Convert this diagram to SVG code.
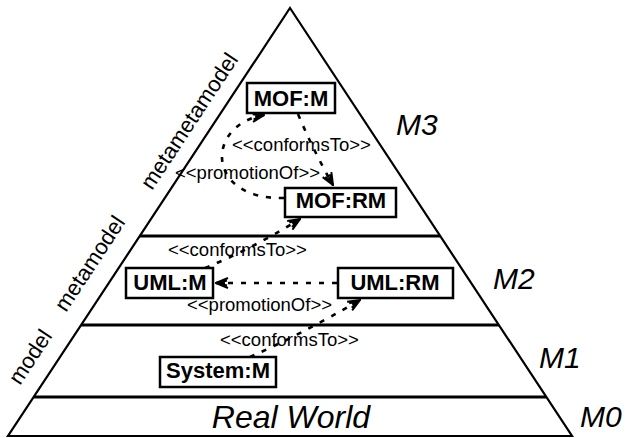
<svg xmlns="http://www.w3.org/2000/svg" width="625" height="438" viewBox="0 0 625 438">
<defs>
<style>
.edge{fill:none;stroke:#000;stroke-width:2.2}
.lvl{fill:none;stroke:#000;stroke-width:3}
.box{fill:#fff;stroke:#000;stroke-width:2.5}
.bt{font-family:"Liberation Sans",Arial,sans-serif;font-weight:bold;font-size:22px;fill:#000}
.lbl{font-family:"Liberation Sans",Arial,sans-serif;font-size:18.5px;fill:#000}
.mt{font-family:"Liberation Sans",Arial,sans-serif;font-style:italic;font-size:30px;fill:#000}
.side{font-family:"Liberation Sans",Arial,sans-serif;font-size:22px;fill:#000}
.dash{fill:none;stroke:#000;stroke-width:2.6;stroke-dasharray:5 8}
</style>
<marker id="arr" viewBox="0 0 14 12" refX="13" refY="6" markerWidth="14" markerHeight="12" markerUnits="userSpaceOnUse" orient="auto">
<path d="M1,1 L13,6 L1,11 M4,6 L13,6 M2,3.5 L12,6 M2,8.5 L12,6" fill="none" stroke="#000" stroke-width="2"/>
</marker>
</defs>
<g id="pyramid">
<polygon class="edge" points="290,8 572,436 8,436"/>
<line class="lvl" x1="140" y1="236" x2="440" y2="236"/>
<line class="lvl" x1="81" y1="325" x2="499" y2="325"/>
<line class="lvl" x1="34" y1="397" x2="546" y2="397"/>
</g>
<g id="levels">
<text class="mt" x="396" y="135">M3</text>
<text class="mt" x="493" y="289">M2</text>
<text class="mt" x="539" y="368">M1</text>
<text class="mt" x="580" y="427">M0</text>
<text class="mt" x="291" y="428" text-anchor="middle" style="font-size:32px">Real World</text>
</g>
<g id="side-labels">
<text class="side" transform="translate(20,386) rotate(-56.6)">model</text>
<text class="side" transform="translate(66,313) rotate(-56.6)">metamodel</text>
<text class="side" transform="translate(152,191) rotate(-56.6)">metametamodel</text>
</g>
<g id="connectors">
<path class="dash" d="M298,114 Q314,152 333,185" marker-end="url(#arr)"/>
<path class="dash" d="M284,198 C205,200 205,125 264,115" marker-end="url(#arr)"/>
<path class="dash" d="M205,268 Q250,250 300,219" marker-end="url(#arr)"/>
<path class="dash" d="M337,283 L216,283" marker-end="url(#arr)"/>
<path class="dash" d="M250,357 Q300,335 360,300" marker-end="url(#arr)"/>
<text class="lbl" x="232" y="151">&lt;&lt;conformsTo&gt;&gt;</text>
<text class="lbl" x="175" y="179">&lt;&lt;promotionOf&gt;&gt;</text>
<text class="lbl" x="168" y="256">&lt;&lt;conformsTo&gt;&gt;</text>
<text class="lbl" x="187" y="311">&lt;&lt;promotionOf&gt;&gt;</text>
<text class="lbl" x="220" y="346">&lt;&lt;conformsTo&gt;&gt;</text>
</g>
<g id="MOF-M">
<rect class="box" x="247" y="83" width="88" height="30"/>
<text class="bt" x="291" y="106" text-anchor="middle">MOF:M</text>
</g>
<g id="MOF-RM">
<rect class="box" x="285" y="188" width="111" height="29"/>
<text class="bt" x="341" y="208" text-anchor="middle">MOF:RM</text>
</g>
<g id="UML-M">
<rect class="box" x="126" y="268" width="87" height="30"/>
<text class="bt" x="170" y="290" text-anchor="middle">UML:M</text>
</g>
<g id="UML-RM">
<rect class="box" x="338" y="268" width="115" height="30"/>
<text class="bt" x="395" y="290" text-anchor="middle">UML:RM</text>
</g>
<g id="System-M">
<rect class="box" x="160" y="357" width="116" height="30"/>
<text class="bt" x="218" y="378" text-anchor="middle">System:M</text>
</g>
</svg>
